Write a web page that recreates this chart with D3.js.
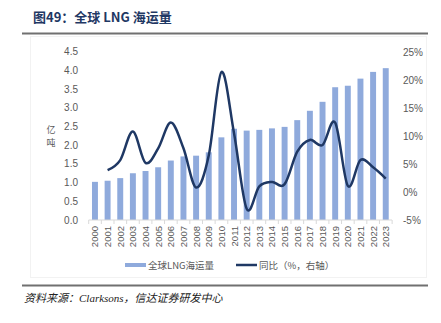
<!DOCTYPE html>
<html>
<head>
<meta charset="utf-8">
<script src="https://cdn.jsdelivr.net/npm/d3@7"></script>
<style>
  body { margin: 0; background: #fff; }
  svg { display: block; }
</style>
</head>
<body>
<svg id="chart" width="441" height="323"></svg>
<script>
// data
const years = ["2000","2001","2002","2003","2004","2005","2006","2007","2008","2009","2010","2011",
               "2012","2013","2014","2015","2016","2017","2018","2019","2020","2021","2022","2023"];
const volume = [1.02,1.05,1.12,1.25,1.31,1.41,1.59,1.70,1.72,1.81,2.21,2.44,
                2.39,2.41,2.45,2.49,2.67,2.92,3.16,3.55,3.59,3.78,3.96,4.06];
const yoy = [null,3.9,5.7,10.8,5.2,7.8,12.4,7.8,0.8,6.5,21.4,10.5,
             -3.0,1.0,1.8,1.4,7.2,9.3,8.4,12.4,1.1,5.7,4.4,2.4];
const leftTicks = [0,0.5,1,1.5,2,2.5,3,3.5,4,4.5];
const rightTicks = [-5,0,5,10,15,20,25];

const BAR = "#8faadc";
const LINE = "#1f3864";
const TXT = "#595959";

const svg = d3.select("#chart");

// title + rules
svg.append("text").attr("x", 33).attr("y", 22)
  .attr("font-family", "'Noto Sans CJK SC', sans-serif").attr("font-weight", "bold")
  .attr("font-size", 13).attr("fill", "#1f3864")
  .text("图49：全球 LNG 海运量");
svg.append("line").attr("x1", 22).attr("x2", 428).attr("y1", 33.5).attr("y2", 33.5)
  .attr("stroke", "#707070").attr("stroke-width", 2);
svg.append("rect").attr("x", 30.5).attr("y", 36.5).attr("width", 396).attr("height", 241)
  .attr("fill", "none").attr("stroke", "#f2f2f2");
svg.append("line").attr("x1", 22).attr("x2", 428).attr("y1", 285.5).attr("y2", 285.5)
  .attr("stroke", "#707070").attr("stroke-width", 2);
svg.append("text").attr("x", 24).attr("y", 302)
  .attr("font-family", "'Liberation Serif', 'Noto Sans CJK SC', serif").attr("font-style", "italic")
  .attr("font-size", 11).attr("fill", "#222")
  .text("资料来源：Clarksons，信达证券研发中心");

// scales
const x = d3.scaleBand().domain(years).range([88.7, 392]).paddingInner(0.53).paddingOuter(0.26);
const yL = d3.scaleLinear().domain([0, 4.5]).range([220, 51.7]);
const yR = d3.scaleLinear().domain([-5, 25]).range([220, 52]);

// bars
svg.append("g").selectAll("rect").data(years).join("rect")
  .attr("x", d => x(d))
  .attr("width", x.bandwidth())
  .attr("y", (d, i) => yL(volume[i]))
  .attr("height", (d, i) => yL(0) - yL(volume[i]))
  .attr("fill", BAR);

// x axis
const step = x.step();
const xa = svg.append("g").attr("transform", "translate(0,220)");
xa.append("line").attr("x1", 88.7).attr("x2", 392).attr("stroke", "#d9d9d9");
xa.selectAll("line.tk").data(d3.range(years.length + 1)).join("line").attr("class", "tk")
  .attr("x1", i => 88.7 + i * step).attr("x2", i => 88.7 + i * step)
  .attr("y1", 0).attr("y2", 4).attr("stroke", "#d9d9d9");
xa.selectAll("text").data(years).join("text")
  .attr("transform", d => `translate(${x(d) + x.bandwidth() / 2 + 3.5},6) rotate(-90)`)
  .attr("text-anchor", "end")
  .attr("font-family", "Arial, 'Liberation Sans', sans-serif").attr("font-size", 9.5)
  .attr("fill", TXT).text(d => d);

// left axis labels
svg.append("g").selectAll("text").data(leftTicks).join("text")
  .attr("x", 78).attr("y", d => yL(d) + 3.5).attr("text-anchor", "end")
  .attr("font-family", "Arial, 'Liberation Sans', sans-serif").attr("font-size", 10)
  .attr("fill", TXT).text(d => d.toFixed(1));
// unit label, one character per row
svg.append("g").selectAll("text").data(["亿", "吨"]).join("text")
  .attr("x", 51).attr("y", (d, i) => 133 + i * 13).attr("text-anchor", "middle")
  .attr("font-family", "'Noto Sans CJK SC', sans-serif").attr("font-size", 9)
  .attr("fill", TXT).text(d => d);

// right axis labels
svg.append("g").selectAll("text").data(rightTicks).join("text")
  .attr("x", 403).attr("y", d => yR(d) + 3.5).attr("text-anchor", "start")
  .attr("font-family", "Arial, 'Liberation Sans', sans-serif").attr("font-size", 10)
  .attr("fill", TXT).text(d => d + "%");

// yoy line
const pts = years.map((d, i) => ({ x: x(d) + x.bandwidth() / 2, v: yoy[i] })).filter(p => p.v !== null);
svg.append("path")
  .attr("d", d3.line().x(p => p.x).y(p => yR(p.v)).curve(d3.curveCatmullRom.alpha(0))(pts))
  .attr("fill", "none").attr("stroke", LINE).attr("stroke-width", 2.5);

// legend
const lg = svg.append("g").attr("font-family", "'Noto Sans CJK SC', sans-serif")
  .attr("font-size", 9.5).attr("fill", TXT);
lg.append("rect").attr("x", 125).attr("y", 263).attr("width", 21).attr("height", 4).attr("fill", BAR);
lg.append("text").attr("x", 148).attr("y", 268.5).text("全球LNG海运量");
lg.append("line").attr("x1", 236).attr("x2", 257).attr("y1", 265).attr("y2", 265)
  .attr("stroke", LINE).attr("stroke-width", 2.5);
lg.append("text").attr("x", 259).attr("y", 268.5).text("同比（%，右轴）");
</script>
</body>
</html>
